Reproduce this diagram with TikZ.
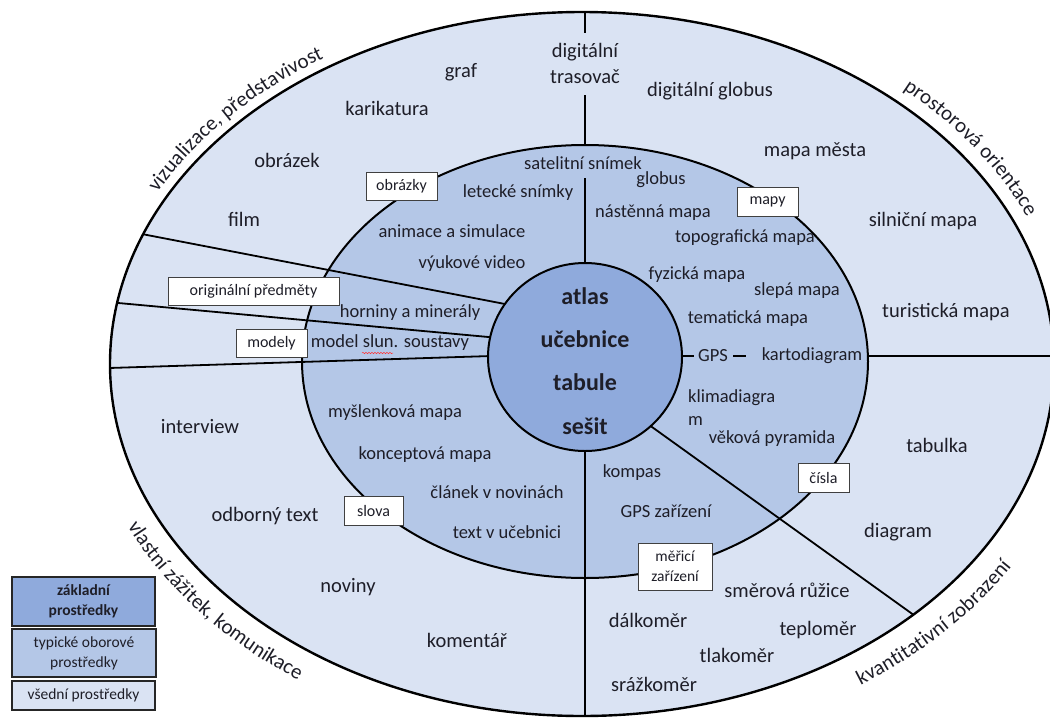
\documentclass[tikz,border=0pt]{standalone}
\usepackage{fontspec}
\setmainfont{Carlito}
\usetikzlibrary{decorations.text,decorations.pathmorphing}
\definecolor{outerc}{RGB}{218,227,243}
\definecolor{midc}{RGB}{180,199,231}
\definecolor{innc}{RGB}{143,170,220}
\definecolor{txt}{RGB}{30,30,40}
\begin{document}
\begin{tikzpicture}[x=1pt,y=-1pt,
  otext/.style={font=\fontsize{20.5}{26}\selectfont, text=txt, inner sep=0pt, align=center},
  mtext/.style={font=\fontsize{18.5}{23}\selectfont, text=txt, inner sep=0pt, align=left},
  ctext/.style={font=\fontsize{24}{28}\selectfont\bfseries, text=txt, inner sep=0pt},
  lbl/.style={draw=black!75, line width=0.8pt, fill=white, font=\fontsize{16}{20}\selectfont, text=txt, inner sep=0pt, align=center},
  divider/.style={line width=1.8pt, draw=black},
  ring/.style={line width=2pt, draw=black},
  legbox/.style={draw=black!85, line width=1.4pt, font=\fontsize{15.5}{20}\selectfont, text=txt, align=center, inner sep=0pt},
  arctext/.style={decorate, decoration={text along path, text align=center, text={|\color{txt}\fontsize{21}{24}\selectfont|#1}}}
]
\useasboundingbox (0,0) rectangle (1050,718);
\fill[white] (0,0) rectangle (1050,718);

% centres
\coordinate (O) at (582,364);
\coordinate (M) at (585,361.5);
\coordinate (C) at (585,357);

% regions
\fill[outerc] (O) ellipse [x radius=472, y radius=352];
\fill[midc] (M) ellipse [x radius=283, y radius=216.5];

% dividers (clipped to outer ring)
\coordinate (l1a) at (520,306.9);  \coordinate (l1b) at (120,229.8);
\coordinate (l2a) at (520,339.9);  \coordinate (l2b) at (90,300.4);
\coordinate (l3a) at (520,355.1);  \coordinate (l3b) at (90,368.6);
\coordinate (l4a) at (630,411.2);  \coordinate (l4b) at (960,648.2);
\coordinate (vba) at (585,400);    \coordinate (vbb) at (585,740);
\coordinate (vt1a) at (585,0);     \coordinate (vt1b) at (585,33);
\coordinate (vt2a) at (585,95);    \coordinate (vt2b) at (585,145);
\coordinate (vt3a) at (585,178);   \coordinate (vt3b) at (585,300);
\coordinate (h1a) at (660,356);    \coordinate (h1b) at (694,356);
\coordinate (h2a) at (733,356);    \coordinate (h2b) at (746,356);
\coordinate (h3a) at (867,356);    \coordinate (h3b) at (1100,356);
\begin{scope}
  \clip (O) ellipse [x radius=472, y radius=352];
  \draw[divider] (l1a) -- (l1b);
  \draw[divider] (l2a) -- (l2b);
  \draw[divider] (l3a) -- (l3b);
  \draw[divider] (l4a) -- (l4b);
  \draw[divider] (vba) -- (vbb);
  \draw[divider] (vt1a) -- (vt1b);
  \draw[divider] (vt2a) -- (vt2b);
  \draw[divider] (vt3a) -- (vt3b);
  \draw[divider] (h1a) -- (h1b);
  \draw[divider] (h2a) -- (h2b);
  \draw[divider] (h3a) -- (h3b);
\end{scope}

\draw[ring] (M) ellipse [x radius=283, y radius=216.5];
\draw[ring, fill=innc] (C) ellipse [x radius=97, y radius=94];
\draw[line width=2.4pt] (O) ellipse [x radius=472, y radius=352];

% curved labels
\path[arctext={vizualizace, představivost}] (O) ++(-163:482 and 362) arc[start angle=-163, end angle=-113, x radius=482, y radius=362];
\path[arctext={prostorová orientace}] (O) ++(-61:486 and 366) arc[start angle=-61, end angle=-9, x radius=486, y radius=366];
\path[arctext={vlastní zážitek, komunikace}] (O) ++(165.5:502 and 383) arc[start angle=165.5, end angle=115.5, x radius=502, y radius=383];
\path[arctext={kvantitativní zobrazení}] (O) ++(69:505 and 385) arc[start angle=69, end angle=17, x radius=505, y radius=385];

% outer ring texts
\node[otext] (graf) at (461,72) {graf};
\node[otext] (karik) at (387,108) {karikatura};
\node[otext] (obrazek) at (287,160) {obrázek};
\node[otext] (film) at (244,219) {film};
\node[otext] (digtras) at (585,63) {digitální\\trasovač};
\node[otext] (digglob) at (710,91) {digitální globus};
\node[otext] (mapamesta) at (815,151) {mapa města};
\node[otext] (silnicni) at (923,221) {silniční mapa};
\node[otext] (turist) at (946,312) {turistická mapa};
\node[otext] (interview) at (200,427) {interview};
\node[otext] (odborny) at (265,516) {odborný text};
\node[otext] (noviny) at (348,587) {noviny};
\node[otext] (komentar) at (467,640) {komentář};
\node[otext] (tabulka) at (937,445) {tabulka};
\node[otext] (diagram) at (898,532) {diagram};
\node[otext] (smerova) at (787,590) {směrová růžice};
\node[otext] (dalkomer) at (648,620) {dálkoměr};
\node[otext] (teplomer) at (818,630) {teploměr};
\node[otext] (tlakomer) at (737,655) {tlakoměr};
\node[otext] (srazkomer) at (654,684) {srážkoměr};

% middle ring texts
\node[mtext] (satelit) at (583,163) {satelitní snímek};
\node[mtext] (letecke) at (518,193) {letecké snímky};
\node[mtext] (globus) at (661,180) {globus};
\node[mtext] (nastenna) at (653,213) {nástěnná mapa};
\node[mtext] (topo) at (745,238) {topografická mapa};
\node[mtext] (fyzicka) at (697,275) {fyzická mapa};
\node[mtext] (slepa) at (797,291) {slepá mapa};
\node[mtext] (tematicka) at (748,319) {tematická mapa};
\node[mtext] (gps) at (713,356) {GPS};
\node[mtext] (karto) at (812,356) {kartodiagram};
\node[mtext, anchor=north west] (klima) at (688,389) {klimadiagra\\m};
\node[mtext] (vekova) at (772,439) {věková pyramida};
\node[mtext] (kompas) at (632,473) {kompas};
\node[mtext] (gpszar) at (666,511) {GPS zařízení};
\node[mtext] (animace) at (452,231) {animace a simulace};
\node[mtext] (vyukove) at (472,264) {výukové video};
\node[mtext] (horniny) at (410,313) {horniny a minerály};
\node[mtext] (model) at (390,343) {model slun. soustavy};
\draw[red!80, line width=0.5pt, decorate, decoration={snake, amplitude=0.7pt, segment length=3pt}] (362,353) -- (393,353);
\node[mtext] (myslenk) at (395,413) {myšlenková mapa};
\node[mtext] (koncept) at (425,455) {konceptová mapa};
\node[mtext] (clanek) at (497,492) {článek v novinách};
\node[mtext] (textvuc) at (507,532) {text v učebnici};

% core texts
\node[ctext] (atlas) at (585,296) {atlas};
\node[ctext] (ucebnice) at (585,339) {učebnice};
\node[ctext] (tabule) at (585,382) {tabule};
\node[ctext] (sesit) at (585,426) {sešit};

% category labels
\node[lbl, minimum width=71pt, minimum height=28pt] (Lobr) at (401.5,186) {obrázky};
\node[lbl, minimum width=171pt, minimum height=28pt] (Lorig) at (253.5,291) {originální předměty};
\node[lbl, minimum width=71pt, minimum height=28pt] (Lmod) at (271.5,343) {modely};
\node[lbl, minimum width=61pt, minimum height=29pt] (Lmapy) at (767.5,201.5) {mapy};
\node[lbl, minimum width=51pt, minimum height=29pt] (Lcisla) at (823.5,477.5) {čísla};
\node[lbl, minimum width=74pt, minimum height=47pt, font=\fontsize{15.5}{20}\selectfont] (Lmer) at (675,566.5) {měřicí\\zařízení};
\node[lbl, minimum width=59pt, minimum height=29pt] (Lslova) at (373.5,510.5) {slova};

% legend
\node[legbox, fill=innc, minimum width=143pt, minimum height=49pt, font=\fontsize{15.5}{20}\selectfont\bfseries] (leg1) at (83.5,601.5) {základní\\prostředky};
\node[legbox, fill=midc, minimum width=144pt, minimum height=48pt] (leg2) at (84,653) {typické oborové\\prostředky};
\node[legbox, fill=outerc, minimum width=143pt, minimum height=29pt] (leg3) at (83.5,695.5) {všední prostředky};
\end{tikzpicture}
\end{document}
